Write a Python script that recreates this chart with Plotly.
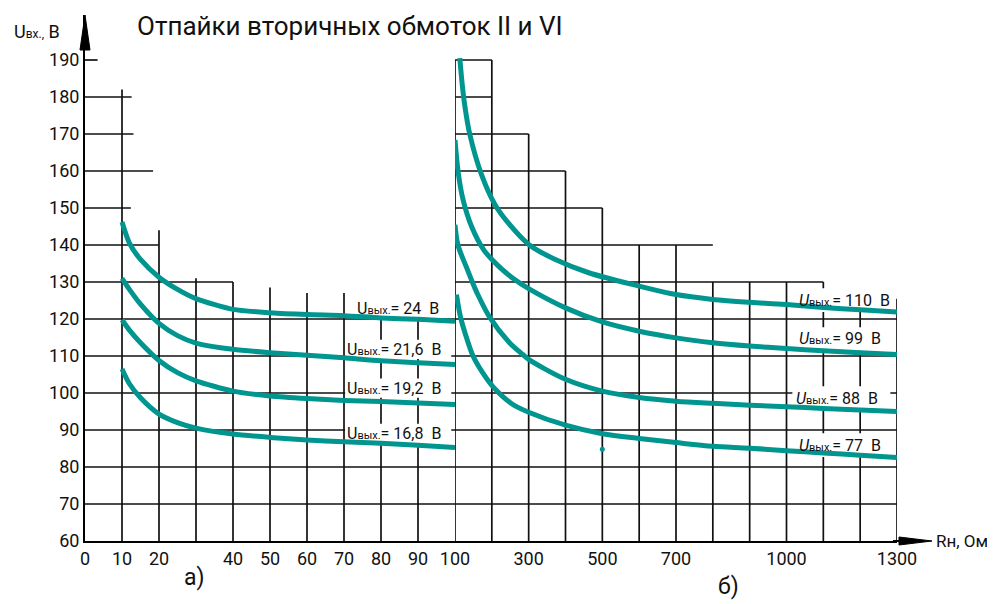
import plotly.graph_objects as go

# ---------------- data ----------------
# panel a): load resistance 0..100 Ohm
r_left = [10, 12, 15, 20, 25, 30, 40, 50, 60, 70, 80, 90, 100]
u_24 = [146.2, 140.5, 136.1, 131.3, 128.0, 125.5, 122.6, 121.7, 121.2, 120.9, 120.3, 119.9, 119.4]
u_21_6 = [131.0, 128.0, 124.0, 118.8, 115.5, 113.5, 111.8, 110.9, 110.2, 109.5, 108.7, 108.2, 107.7]
u_19_2 = [119.8, 117.0, 113.6, 108.8, 105.5, 103.3, 100.5, 99.2, 98.5, 98.0, 97.7, 97.3, 96.9]
u_16_8 = [106.5, 102.5, 98.7, 94.3, 92.0, 90.5, 88.9, 88.0, 87.3, 86.8, 86.4, 85.9, 85.3]

# panel б): load resistance 100..1300 Ohm
r_110 = [113, 120, 127, 140, 172, 208, 240, 302, 374, 463, 600, 700, 800, 900, 1000, 1100, 1200, 1300]
u_110 = [190.5, 183.0, 177.4, 170.0, 159.0, 151.0, 146.5, 140.0, 136.0, 132.5, 128.9, 126.6, 125.3, 124.5, 123.9, 123.1, 122.5, 121.9]
r_99 = [100, 109, 122, 145, 178, 216, 260, 300, 400, 500, 600, 700, 800, 900, 1000, 1100, 1200, 1300]
u_99 = [168.4, 159.4, 152.2, 145.0, 138.7, 134.5, 130.8, 128.2, 123.0, 119.2, 116.7, 114.9, 113.6, 112.7, 112.0, 111.4, 110.9, 110.4]
r_88 = [100, 108, 131, 145, 160, 194, 248, 284, 300, 400, 500, 600, 700, 800, 900, 1000, 1100, 1200, 1300]
u_88 = [145.5, 140.0, 134.0, 130.5, 127.0, 120.5, 113.6, 110.4, 109.1, 103.7, 100.5, 98.8, 97.8, 97.2, 96.7, 96.3, 95.8, 95.4, 95.0]
r_77 = [104, 115, 127, 149, 175, 204, 254, 300, 400, 500, 600, 700, 800, 900, 1000, 1100, 1200, 1300]
u_77 = [126.6, 120.5, 116.3, 110.0, 105.5, 101.6, 97.1, 94.8, 91.3, 89.0, 87.7, 86.6, 85.6, 85.1, 84.4, 83.8, 83.2, 82.6]
dot_r = [500]
dot_u = [84.8]

left_series = [("24", u_24), ("21,6", u_21_6), ("19,2", u_19_2), ("16,8", u_16_8)]
right_series = [("110", r_110, u_110), ("99", r_99, u_99), ("88", r_88, u_88), ("77", r_77, u_77)]

y_ticks = list(range(60, 200, 10))
x_left_ticks = [0, 10, 20, 40, 50, 60, 70, 80, 90, 100]
x_right_ticks = [300, 500, 700, 1000, 1300]

# label placement (x of left edge, y centre) in each panel
left_label_pos = [(73, 122.9), (70.3, 111.8), (70.3, 101.3), (70.3, 89.1)]
right_label_pos = [(1028, 125.1), (1028, 114.6), (1021, 98.6), (1028, 85.9)]

# staircase grid (structure of the drawing sheet)
grid_left_vert = [(10, 182), (20, 144), (30, 131), (40, 130), (50, 128.5), (60, 127), (70, 127), (80, 121), (90, 121)]
grid_left_horz = [(190, 3.4), (180, 12.6), (170, 13.1), (160, 18.4), (150, 12.4), (140, 20), (130, 40)]
grid_full_horz = [70, 80, 90, 100, 110, 120]
grid_right_vert = [(100, 190), (200, 190), (300, 170), (400, 160), (500, 150), (600, 140), (700, 140),
                   (800, 130), (900, 130), (1000, 130), (1100, 130), (1200, 128), (1300, 125.5)]
grid_right_horz = [(190, 200), (180, 200), (170, 300), (160, 400), (150, 500), (140, 800), (130, 1100)]

# ---------------- figure ----------------
TEAL = "#00968F"
INK = "#111111"
FONT = "Roboto, Liberation Sans, sans-serif"
PAGE_W, PAGE_H = 995, 604
OFF = 8                       # page body margin of the html document
PL, PR, PT, PB = 85, 897, 15, 541   # plot area in page pixels
W, H = PAGE_W - OFF, PAGE_H - OFF
ML, MT = PL - OFF, PT - OFF
MR, MB = W + OFF - PR, H + OFF - PB
pw, ph = PR - PL, PB - PT
SPLIT = 370 / pw
Y_TOP = 60 + ph / 3.7


def px_to_paper(px, py):
    return (px - PL) / pw, (PB - py) / ph


fig = go.Figure()

for name, ys in left_series:
    fig.add_trace(go.Scatter(x=r_left, y=ys, mode="lines", xaxis="x", yaxis="y",
                             line=dict(color=TEAL, width=5, shape="spline", smoothing=0.7),
                             hoverinfo="skip", showlegend=False, name=name))
for name, xs, ys in right_series:
    fig.add_trace(go.Scatter(x=xs, y=ys, mode="lines", xaxis="x2", yaxis="y",
                             line=dict(color=TEAL, width=5, shape="spline", smoothing=0.9),
                             hoverinfo="skip", showlegend=False, name=name))
fig.add_trace(go.Scatter(x=dot_r, y=dot_u, mode="markers", xaxis="x2", yaxis="y",
                         marker=dict(color=TEAL, size=5), hoverinfo="skip", showlegend=False))

shapes = []
gl = dict(color=INK, width=1.7)
for x, top in grid_left_vert:
    shapes.append(dict(type="line", xref="x", yref="y", x0=x, x1=x, y0=60, y1=top, line=gl, layer="below"))
for y, xe in grid_left_horz:
    shapes.append(dict(type="line", xref="x", yref="y", x0=0, x1=xe, y0=y, y1=y, line=gl, layer="below"))
for y in grid_full_horz:
    shapes.append(dict(type="line", xref="x", yref="y", x0=0, x1=100, y0=y, y1=y, line=gl, layer="below"))
    shapes.append(dict(type="line", xref="x2", yref="y", x0=100, x1=1300, y0=y, y1=y, line=gl, layer="below"))
for x, top in grid_right_vert:
    shapes.append(dict(type="line", xref="x2", yref="y", x0=x, x1=x, y0=60, y1=top, line=gl, layer="below"))
for y, xe in grid_right_horz:
    shapes.append(dict(type="line", xref="x2", yref="y", x0=100, x1=xe, y0=y, y1=y, line=gl, layer="below"))

# white masks behind the curve labels (the drawing's labels interrupt the grid)
for (x0, yc) in left_label_pos:
    shapes.append(dict(type="rect", xref="x", yref="y", x0=x0, x1=99, y0=yc - 2.6, y1=yc + 2.6,
                       fillcolor="white", line=dict(width=0), layer="below"))
for (x0, yc) in right_label_pos:
    shapes.append(dict(type="rect", xref="x2", yref="y", x0=x0 - 5, x1=1282, y0=yc - 3.2, y1=yc + 3.2,
                       fillcolor="white", line=dict(width=0), layer="below"))

# axis arrows
shapes.append(dict(type="path", xref="paper", yref="paper",
                   path=f"M 0 1 L {5/pw} {1-35/ph} L {-5/pw} {1-35/ph} Z",
                   fillcolor="black", line=dict(color="black", width=1)))
shapes.append(dict(type="line", xref="paper", yref="paper", x0=0.995, x1=1 + 10/pw, y0=0, y1=0,
                   line=dict(color="black", width=2)))
shapes.append(dict(type="path", xref="paper", yref="paper",
                   path=f"M {1+35/pw} 0 L {1+2/pw} {4/ph} L {1+2/pw} {-4/ph} Z",
                   fillcolor="black", line=dict(color="black", width=1)))

annotations = []
for (name, _), (x0, yc) in zip(left_series, left_label_pos):
    annotations.append(dict(xref="x", yref="y", x=x0, y=yc, xanchor="left", yanchor="middle", showarrow=False,
                            text=f"U<span style='font-size:11px'>вых.</span>= {name}\u00a0\u00a0В",
                            font=dict(size=16, color=INK)))
for (name, _, _), (x0, yc) in zip(right_series, right_label_pos):
    annotations.append(dict(xref="x2", yref="y", x=x0, y=yc, xanchor="left", yanchor="middle", showarrow=False,
                            text=f"<i>U</i><span style='font-size:11px'>вых.</span>= {name}\u00a0\u00a0В",
                            font=dict(size=16, color=INK)))

tx, ty = px_to_paper(135, 26)
annotations.append(dict(xref="paper", yref="paper", x=tx, y=ty, xanchor="left", yanchor="middle", showarrow=False,
                        text="Отпайки вторичных обмоток II и VI", font=dict(size=26, color=INK)))
ax_, ay_ = px_to_paper(12, 31)
annotations.append(dict(xref="paper", yref="paper", x=ax_, y=ay_, xanchor="left", yanchor="middle", showarrow=False,
                        text="U<span style='font-size:12px'>вх.,</span> В", font=dict(size=18, color=INK)))
rx, ry = px_to_paper(934, 541)
annotations.append(dict(xref="paper", yref="paper", x=rx, y=ry, xanchor="left", yanchor="middle", showarrow=False,
                        text="Rн, Ом", font=dict(size=17, color=INK)))
a1x, a1y = px_to_paper(194, 577)
annotations.append(dict(xref="paper", yref="paper", x=a1x, y=a1y, xanchor="center", yanchor="middle", showarrow=False,
                        text="а)", font=dict(size=23, color=INK)))
a2x, a2y = px_to_paper(728, 586)
annotations.append(dict(xref="paper", yref="paper", x=a2x, y=a2y, xanchor="center", yanchor="middle", showarrow=False,
                        text="б)", font=dict(size=23, color=INK)))

tick_font = dict(size=18, color=INK)
fig.update_layout(
    width=W, height=H,
    margin=dict(l=ML, r=MR, t=MT, b=MB),
    paper_bgcolor="white", plot_bgcolor="white",
    font=dict(family=FONT, color=INK),
    showlegend=False,
    xaxis=dict(domain=[0, SPLIT], range=[0, 100], anchor="y", showgrid=False, zeroline=False,
               showline=True, linecolor="black", linewidth=2,
               tickmode="array", tickvals=x_left_ticks, ticktext=[str(v) for v in x_left_ticks],
               ticks="", tickfont=tick_font),
    xaxis2=dict(domain=[SPLIT, 1], range=[100, 1300], anchor="y", showgrid=False, zeroline=False,
                showline=True, linecolor="black", linewidth=2,
                tickmode="array", tickvals=x_right_ticks, ticktext=[str(v) for v in x_right_ticks],
                ticks="", tickfont=tick_font),
    yaxis=dict(range=[60, Y_TOP], showgrid=False, zeroline=False, showline=True, linecolor="black", linewidth=2,
               tickmode="array", tickvals=y_ticks, ticktext=[str(v) for v in y_ticks],
               ticks="", tickfont=tick_font),
    shapes=shapes,
    annotations=annotations,
)

fig.write_html("out.html")
